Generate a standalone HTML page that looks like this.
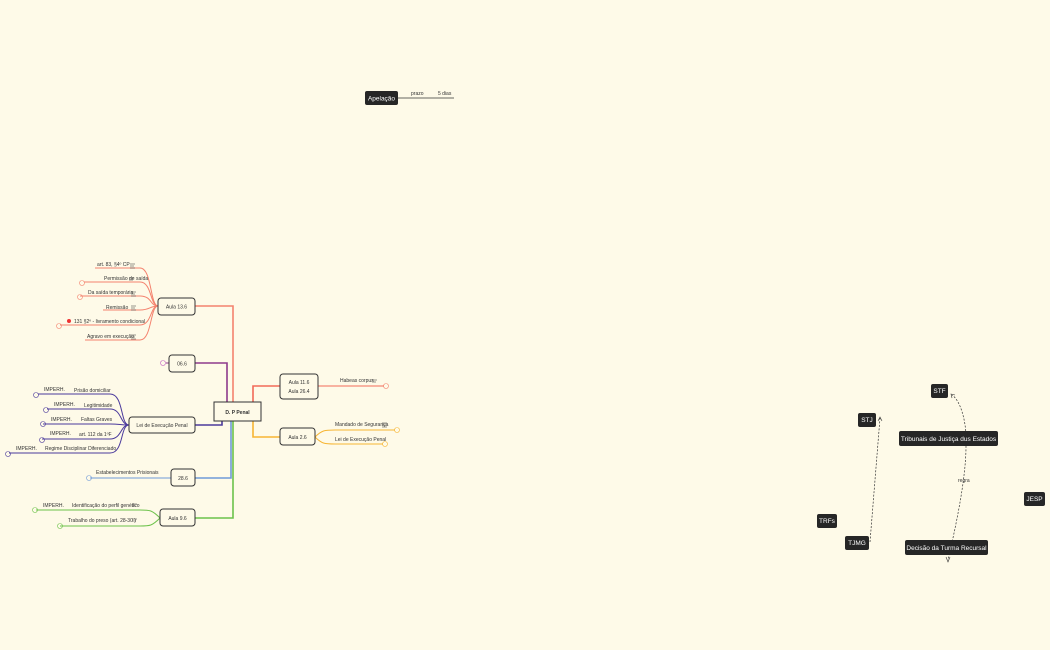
<!DOCTYPE html>
<html><head><meta charset="utf-8"><style>
body{margin:0;background:#fefae8;}
svg{display:block;font-family:"Liberation Sans",sans-serif;}
.t{font-size:5px;fill:#333;}
.b{fill:#fefae8;stroke:#333;stroke-width:1;}
.d{fill:#262626;}
.w{fill:#fff;font-size:6.5px;}
</style></head><body>
<svg width="1050" height="650" viewBox="0 0 1050 650">
<rect width="1050" height="650" fill="#fefae8"/>
<!-- Apelação -->
<rect class="d" x="365" y="91" width="33" height="14" rx="2"/>
<text class="w" x="381.5" y="100.5" text-anchor="middle">Apelação</text>
<line x1="398" y1="98" x2="454" y2="98" stroke="#333" stroke-width="0.8"/>
<text class="t" x="411" y="95">prazo</text><text class="t" x="438" y="95">5 dias</text>

<!-- main connectors -->
<g fill="none" stroke-width="1.6">
<path d="M195,306 H233 V402" stroke="#f4826e"/>
<path d="M195,363 H227 V402" stroke="#8e3a8c"/>
<path d="M195,425 H222 V421" stroke="#4b3a9c"/>
<path d="M195,478 H231 V421" stroke="#6f9ad8"/>
<path d="M195,518 H233 V421" stroke="#6cc24a"/>
<path d="M253,402 V386 H280" stroke="#f26a58"/>
<path d="M253,421 V437 H280" stroke="#f7b532"/>
</g>
<!-- Aula 13.6 children -->
<g fill="none" stroke="#f4826e" stroke-width="1">
<path d="M158,306 C150,306 152,268 140,268 H95"/>
<path d="M158,306 C150,306 152,282 140,282 H84"/>
<path d="M158,306 C150,306 152,296 140,296 H80"/>
<path d="M158,306 C150,306 150,310 140,310 H103"/>
<path d="M158,306 C150,306 152,325 140,325 H60"/>
<path d="M158,306 C150,306 152,340 140,340 H85"/>
</g>
<g class="t">
<text x="97" y="266">art. 83, §4º CP</text><text x="104" y="280">Permissão de saída</text>
<text x="88" y="294">Da saída temporária</text><text x="106" y="309">Remissão</text>
<text x="74" y="323">131 §2º - livramento condicional</text><text x="87" y="338">Agravo em execução</text>
</g>
<circle cx="69" cy="321" r="2" fill="#e33"/>
<g fill="none" stroke="#f4826e" stroke-width="0.6">
<circle cx="82" cy="283" r="2.5"/><circle cx="80" cy="297" r="2.5"/><circle cx="59" cy="326" r="2.5"/>
</g>
<!-- 06.6 -->
<line x1="166" y1="363" x2="169" y2="363" stroke="#8e3a8c"/>
<circle cx="163" cy="363" r="2.5" fill="none" stroke="#c060c0" stroke-width="0.6"/>
<!-- Lei de execução children -->
<g fill="none" stroke="#4b3a9c" stroke-width="1">
<path d="M129,425 C120,425 124,394 110,394 H38"/>
<path d="M129,425 C120,425 122,409 110,409 H47"/>
<path d="M129,425 C120,425 120,424 110,424 H43"/>
<path d="M129,425 C120,425 122,439 110,439 H42"/>
<path d="M129,425 C120,425 124,453 110,453 H9"/>
</g>
<g class="t">
<text x="44" y="391">IMPERH.</text><text x="74" y="392">Prisão domiciliar</text>
<text x="54" y="406">IMPERH.</text><text x="84" y="407">Legitimidade</text>
<text x="51" y="421">IMPERH.</text><text x="81" y="421">Faltas Graves</text>
<text x="50" y="435">IMPERH.</text><text x="79" y="436">art. 112 da 1ºF</text>
<text x="16" y="450">IMPERH.</text><text x="45" y="450">Regime Disciplinar Diferenciado</text>
</g>
<g fill="none" stroke="#4b3a9c" stroke-width="0.6">
<circle cx="36" cy="395" r="2.5"/><circle cx="46" cy="410" r="2.5"/><circle cx="43" cy="424" r="2.5"/><circle cx="42" cy="440" r="2.5"/><circle cx="8" cy="454" r="2.5"/>
</g>
<!-- 28.6 -->
<line x1="90" y1="478" x2="171" y2="478" stroke="#6f9ad8" stroke-width="1"/>
<text class="t" x="96" y="474">Estabelecimentos Prisionais</text>
<circle cx="89" cy="478" r="2.5" fill="none" stroke="#6f9ad8" stroke-width="0.6"/>
<!-- Aula 9.6 children -->
<g fill="none" stroke="#6cc24a" stroke-width="1">
<path d="M160,518 C152,510 150,510 140,510 H36"/>
<path d="M160,518 C152,526 150,526 140,526 H60"/>
</g>
<g class="t"><text x="43" y="507">IMPERH.</text><text x="72" y="507">Identificação do perfil genético</text>
<text x="68" y="522">Trabalho do preso (art. 28-30 )</text></g>
<g fill="none" stroke="#6cc24a" stroke-width="0.6"><circle cx="35" cy="510" r="2.5"/><circle cx="60" cy="526" r="2.5"/></g>
<!-- right children -->
<line x1="318" y1="386" x2="384" y2="386" stroke="#f26a58" stroke-width="1"/>
<text class="t" x="340" y="382">Habeas corpus</text>
<circle cx="386" cy="386" r="2.5" fill="none" stroke="#f4826e" stroke-width="0.6"/>
<g fill="none" stroke="#f7b532" stroke-width="1">
<path d="M315,437 C322,430 325,430 335,430 H395"/>
<path d="M315,437 C322,444 325,444 335,444 H383"/>
</g>
<g class="t"><text x="335" y="426">Mandado de Segurança</text><text x="335" y="441">Lei de Execução Penal</text></g>
<g fill="none" stroke="#f7b532" stroke-width="0.6"><circle cx="397" cy="430" r="2.5"/><circle cx="385" cy="444" r="2.5"/></g>
<!-- note icons -->
<g stroke="#333" stroke-width="0.6">
<path d="M130,264h5M130,266h4M130,268h5"/><path d="M129,278h5M129,280h4"/><path d="M131,292h5M131,294h4M131,296h5"/>
<path d="M131,306h5M131,308h4M131,310h5"/><path d="M131,335h5M131,337h4M131,339h5"/><path d="M372,380h5M372,382h4"/>
<path d="M382,423h5M382,425h4M382,427h5"/><path d="M132,504h5M132,506h4"/><path d="M132,519h5M132,521h4"/>
</g>
<!-- boxes -->
<g>
<rect class="b" x="158" y="298" width="37" height="17" rx="3"/><text class="t" font-size="6" x="176.5" y="308.5" text-anchor="middle">Aula 13.6</text>
<rect class="b" x="169" y="355" width="26" height="17" rx="3"/><text class="t" font-size="6" x="182" y="365.5" text-anchor="middle">06.6</text>
<rect class="b" x="129" y="417" width="66" height="16" rx="3"/><text class="t" font-size="6" x="162" y="427" text-anchor="middle">Lei de Execução Penal</text>
<rect class="b" x="171" y="469" width="24" height="17" rx="3"/><text class="t" font-size="6" x="183" y="480" text-anchor="middle">28.6</text>
<rect class="b" x="160" y="509" width="35" height="17" rx="3"/><text class="t" font-size="6" x="177.5" y="520" text-anchor="middle">Aula 9.6</text>
<rect class="b" x="214" y="402" width="47" height="19" rx="0"/><text class="t" font-size="6" font-weight="bold" x="237.5" y="414" text-anchor="middle">D. P Penal</text>
<rect class="b" x="280" y="374" width="38" height="25" rx="3"/><text class="t" font-size="6" x="299" y="384" text-anchor="middle">Aula 11.6</text><text class="t" font-size="6" x="299" y="393" text-anchor="middle">Aula 26.4</text>
<rect class="b" x="280" y="428" width="35" height="17" rx="3"/><text class="t" font-size="6" x="297.5" y="439" text-anchor="middle">Aula 2.6</text>
</g>
<!-- right dark nodes -->
<g fill="none" stroke="#333" stroke-width="0.7" stroke-dasharray="2,1.5">
<path d="M870,542 L880,418"/>
<path d="M966,438 C966,420 960,400 952,395"/>
<path d="M966,446 C966,480 955,530 948,560"/>
</g>
<path d="M878,421 l2,-4 l2,4" fill="none" stroke="#333" stroke-width="0.6"/>
<path d="M952,398 l-1,-4 l4,1" fill="none" stroke="#333" stroke-width="0.6"/>
<path d="M946,557 l2,5 l2,-5" fill="none" stroke="#333" stroke-width="0.6"/>
<text class="t" x="958" y="482">regra</text>
<g>
<rect class="d" x="931" y="384" width="17" height="14" rx="2"/><text class="w" font-size="5.5" x="939.5" y="393" text-anchor="middle">STF</text>
<rect class="d" x="858" y="413" width="18" height="14" rx="2"/><text class="w" font-size="5.5" x="867" y="422" text-anchor="middle">STJ</text>
<rect class="d" x="899" y="431" width="99" height="15" rx="2"/><text class="w" font-size="6" x="948.5" y="441" text-anchor="middle">Tribunais de Justiça dus Estados</text>
<rect class="d" x="1024" y="492" width="21" height="14" rx="2"/><text class="w" font-size="5.5" x="1034.5" y="501" text-anchor="middle">JESP</text>
<rect class="d" x="817" y="514" width="20" height="14" rx="2"/><text class="w" font-size="5.5" x="827" y="523" text-anchor="middle">TRFs</text>
<rect class="d" x="845" y="536" width="24" height="14" rx="2"/><text class="w" font-size="5.5" x="857" y="545" text-anchor="middle">TJMG</text>
<rect class="d" x="905" y="540" width="83" height="15" rx="2"/><text class="w" font-size="6" x="946.5" y="550" text-anchor="middle">Decisão da Turma Recursal</text>
</g>
</svg>
</body></html>
